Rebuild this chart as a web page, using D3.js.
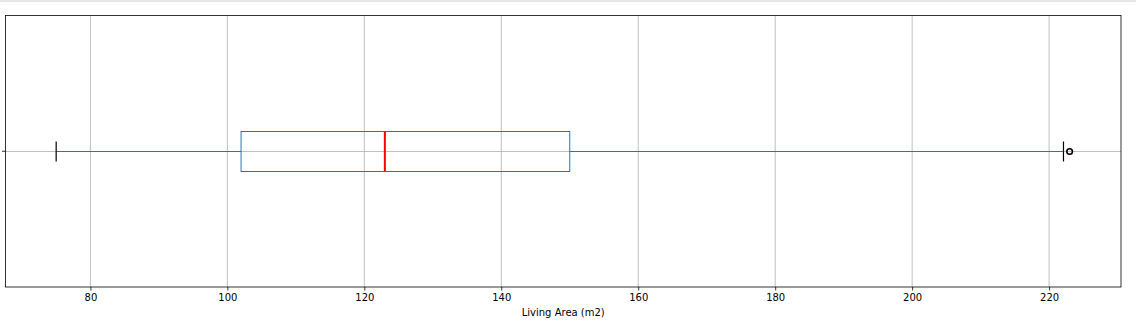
<!DOCTYPE html>
<html>
<head>
<meta charset="utf-8">
<script src="https://cdn.jsdelivr.net/npm/d3@7"></script>
<style>
  body { margin: 0; background: #fff; font-family: "DejaVu Sans", sans-serif; }
  .topbar { position: absolute; left: 0; top: 0; width: 1136px; height: 2px; background: #e6e6e6; }
</style>
</head>
<body>
<div class="topbar"></div>
<div id="chart"></div>
<script>
// box statistics (Living Area, m2)
const stats = { whiskerLow: 75, q1: 102, median: 123, q3: 150, whiskerHigh: 222.1 };
const outliers = [223];
const xTicks = [80, 100, 120, 140, 160, 180, 200, 220];
const xDomain = [67.6, 230.5];
const xLabel = "Living Area (m2)";

const W = 1136, H = 328;
const margin = { top: 15.5, right: 15, bottom: 41, left: 5.5 };
const width = W - margin.left - margin.right;
const height = H - margin.top - margin.bottom;

const svg = d3.select("#chart").append("svg")
  .attr("width", W).attr("height", H)
  .append("g")
  .attr("transform", `translate(${margin.left},${margin.top})`);

const x = d3.scaleLinear().domain(xDomain).range([0, width]);
const y = d3.scaleBand().domain(["LivingArea"]).range([0, height]);
const cy = Math.round(y("LivingArea") + y.bandwidth() / 2);
const boxH = 40, capH = 20;

// grid
svg.append("g")
  .selectAll("line.vgrid")
  .data(xTicks)
  .join("line")
  .attr("x1", d => x(d)).attr("x2", d => x(d))
  .attr("y1", 0).attr("y2", height)
  .attr("stroke", "#b0b0b0").attr("stroke-width", 0.8);
svg.append("line")
  .attr("x1", 0).attr("x2", width).attr("y1", cy).attr("y2", cy)
  .attr("stroke", "#b0b0b0").attr("stroke-width", 0.8);

// x axis
const xAxis = svg.append("g")
  .attr("transform", `translate(0,${height})`)
  .call(d3.axisBottom(x).tickValues(xTicks).tickSize(3.5).tickPadding(3.5).tickFormat(d3.format("d")));
xAxis.select(".domain").remove();
xAxis.selectAll("line").attr("stroke", "#000").attr("stroke-width", 0.8);
xAxis.selectAll("text").attr("font-family", "DejaVu Sans").attr("font-size", 10).attr("fill", "#000");

// y axis (single empty tick)
const yAxis = svg.append("g")
  .call(d3.axisLeft(y).tickSize(3.5).tickFormat(""));
yAxis.select(".domain").remove();
yAxis.selectAll("line").attr("stroke", "#000").attr("stroke-width", 0.8);

svg.append("text")
  .attr("x", width / 2).attr("y", height + 29)
  .attr("text-anchor", "middle")
  .attr("font-family", "DejaVu Sans").attr("font-size", 10)
  .text(xLabel);

// whiskers
const blue = "#1f77b4";
svg.append("line")
  .attr("x1", x(stats.whiskerLow)).attr("x2", x(stats.q1))
  .attr("y1", cy).attr("y2", cy)
  .attr("stroke", blue).attr("stroke-width", 1);
svg.append("line")
  .attr("x1", x(stats.q3)).attr("x2", x(stats.whiskerHigh))
  .attr("y1", cy).attr("y2", cy)
  .attr("stroke", blue).attr("stroke-width", 1);

// caps
svg.selectAll("line.cap")
  .data([stats.whiskerLow, stats.whiskerHigh])
  .join("line")
  .attr("class", "cap")
  .attr("x1", d => x(d)).attr("x2", d => x(d))
  .attr("y1", cy - capH / 2).attr("y2", cy + capH / 2)
  .attr("stroke", "#000").attr("stroke-width", 1.2);

// box
svg.append("rect")
  .attr("x", x(stats.q1)).attr("y", cy - boxH / 2)
  .attr("width", x(stats.q3) - x(stats.q1)).attr("height", boxH)
  .attr("fill", "none").attr("stroke", blue).attr("stroke-width", 1);

// median
svg.append("line")
  .attr("x1", x(stats.median)).attr("x2", x(stats.median))
  .attr("y1", cy - boxH / 2).attr("y2", cy + boxH / 2)
  .attr("stroke", "red").attr("stroke-width", 2);

// outliers
svg.selectAll("circle.flier")
  .data(outliers)
  .join("circle")
  .attr("class", "flier")
  .attr("cx", d => x(d)).attr("cy", cy).attr("r", 2.8)
  .attr("fill", "none").attr("stroke", "#000").attr("stroke-width", 1.6);

// frame
svg.append("rect")
  .attr("x", 0).attr("y", 0).attr("width", width).attr("height", height)
  .attr("fill", "none").attr("stroke", "#000").attr("stroke-width", 0.8);
</script>
</body>
</html>
